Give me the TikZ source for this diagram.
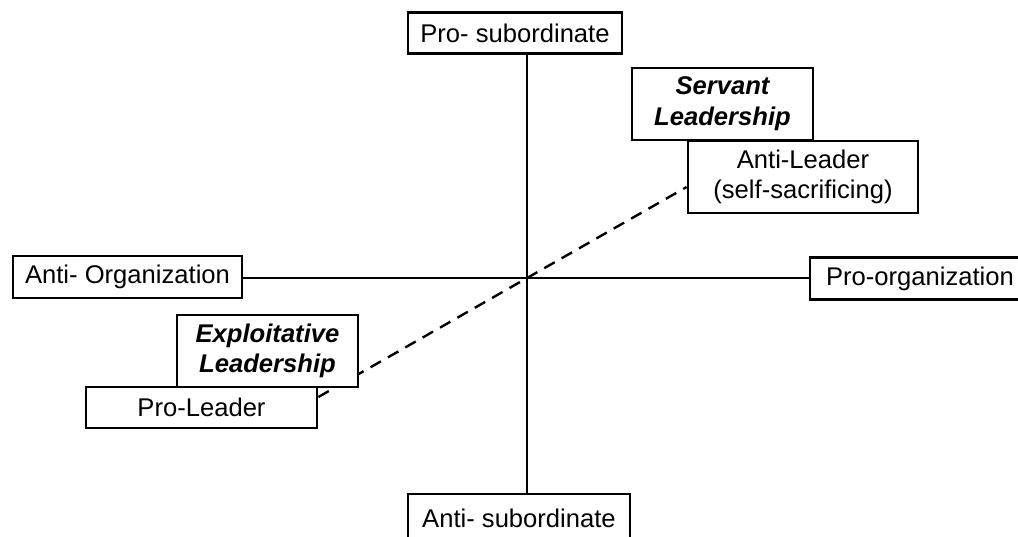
\documentclass[tikz,border=0pt]{standalone}
\usepackage{fontspec}
\setmainfont{Liberation Sans}
\usetikzlibrary{calc}
\begin{document}
\begin{tikzpicture}[x=0.5pt,y=-0.5pt,
  box/.style={draw=black,line width=1.4pt,fill=white,inner sep=0pt,align=center,
    font=\fontsize{12.8}{15.3}\selectfont},
  lead/.style={box,font=\fontsize{12.8}{15.3}\selectfont\bfseries\itshape},
  axis/.style={line width=1.2pt},
  diag/.style={line width=1.2pt,dash pattern=on 6pt off 4pt}]
\useasboundingbox (0,0) rectangle (1018,536);
\coordinate (o) at (527,278);
% quadrant axes end points
\node[box,minimum width=107pt,minimum height=20.5pt] (top) at (515,33) {Pro- subordinate};
\node[box,minimum width=111pt,minimum height=24pt] (bot) at (519,518) {Anti- subordinate};
\node[box,minimum width=114.5pt,minimum height=21pt] (left) at (127.5,277) {Anti- Organization};
\node[box,minimum width=110pt,minimum height=21pt] (right) at (920,278.5) {Pro-organization};
% axes
\draw[axis] (o |- top.south) -- (o |- bot.north);
\draw[axis] (o -| left.east) -- (o -| right.west);
% leader-oriented diagonal
\node[box,minimum width=115.5pt,minimum height=20.5pt] (pl) at (201.5,407.5) {Pro-Leader};
\node[box,minimum width=115pt,minimum height=36pt] (al) at (803,177) {Anti-Leader\\(self-sacrificing)};
\draw[diag] ($(pl.east)+(0,-10.5)$) -- ($(al.west)+(0,10)$);
% leadership styles
\node[lead,minimum width=90.5pt,minimum height=36pt] (ex) at (267.5,351) {Exploitative\\Leadership};
\node[lead,minimum width=90.5pt,minimum height=36pt] (sv) at (722.5,104) {Servant\\Leadership};
% boxes that share an edge with a style box are drawn again on top
\node[box,minimum width=115.5pt,minimum height=20.5pt] at (pl) {Pro-Leader};
\node[box,minimum width=115pt,minimum height=36pt] at (al) {Anti-Leader\\(self-sacrificing)};
\end{tikzpicture}
\end{document}
